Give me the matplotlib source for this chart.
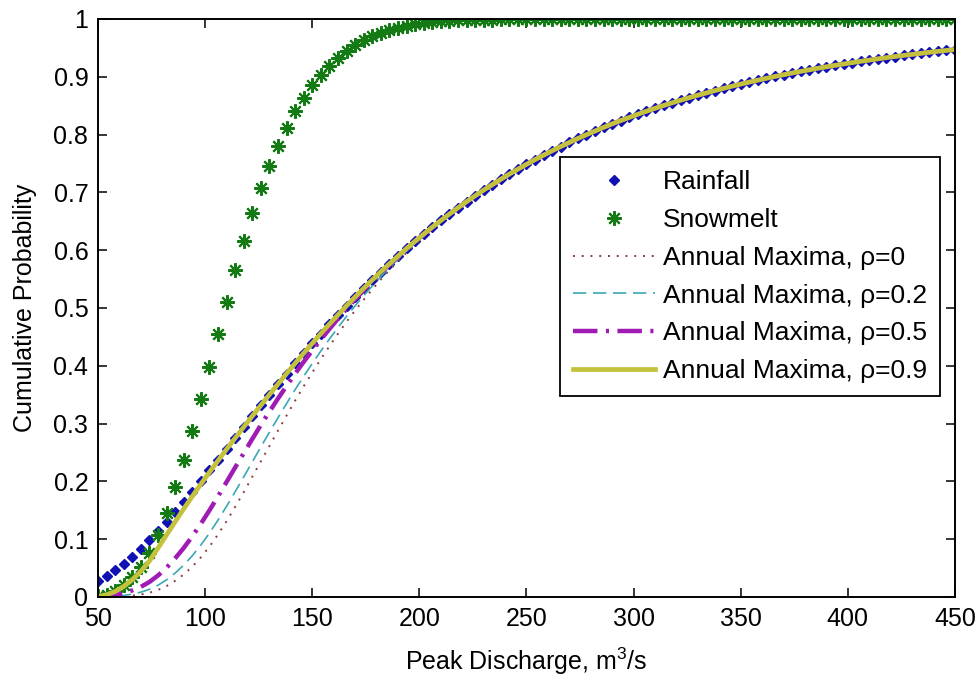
import matplotlib
matplotlib.use('Agg')
import matplotlib.pyplot as plt
from matplotlib.ticker import MultipleLocator, FormatStrFormatter

plt.rcParams['font.family'] = ['Liberation Sans', 'DejaVu Sans']
plt.rcParams['mathtext.fontset'] = 'custom'
plt.rcParams['mathtext.rm'] = 'Liberation Sans'
plt.rcParams['mathtext.it'] = 'Liberation Sans:italic'
plt.rcParams['mathtext.default'] = 'regular'

# ---------------- data ----------------
discharge = list(range(50, 451, 4))   # evaluation grid, m^3/s

rainfall = [
    0.0271, 0.0358, 0.0459, 0.0572, 0.0697, 0.0833, 0.0980, 0.1134, 0.1297, 0.1466,
    0.1641, 0.1820, 0.2004, 0.2189, 0.2377, 0.2566, 0.2755, 0.2943, 0.3131, 0.3318,
    0.3502, 0.3685, 0.3866, 0.4044, 0.4219, 0.4388, 0.4558, 0.4721, 0.4881, 0.5039,
    0.5191, 0.5341, 0.5486, 0.5628, 0.5765, 0.5898, 0.6030, 0.6156, 0.6278, 0.6398,
    0.6514, 0.6624, 0.6733, 0.6839, 0.6940, 0.7040, 0.7133, 0.7227, 0.7317, 0.7402,
    0.7486, 0.7568, 0.7645, 0.7721, 0.7794, 0.7864, 0.7933, 0.7999, 0.8062, 0.8125,
    0.8186, 0.8243, 0.8297, 0.8352, 0.8404, 0.8455, 0.8504, 0.8550, 0.8595, 0.8639,
    0.8682, 0.8722, 0.8762, 0.8800, 0.8838, 0.8874, 0.8908, 0.8942, 0.8974, 0.9006,
    0.9036, 0.9066, 0.9094, 0.9121, 0.9148, 0.9173, 0.9198, 0.9222, 0.9245, 0.9268,
    0.9289, 0.9311, 0.9331, 0.9351, 0.9370, 0.9388, 0.9406, 0.9424, 0.9440, 0.9456,
    0.9472,
]

snowmelt = [
    0.001, 0.004, 0.010, 0.020, 0.034, 0.052, 0.076, 0.108, 0.146, 0.190,
    0.237, 0.288, 0.342, 0.398, 0.455, 0.511, 0.565, 0.616, 0.664, 0.707,
    0.746, 0.781, 0.812, 0.840, 0.864, 0.885, 0.903, 0.919, 0.933, 0.945,
    0.955, 0.963, 0.970, 0.976, 0.981, 0.985, 0.988, 0.991, 0.993, 0.995,
    0.996, 0.997, 0.998, 0.998, 0.999, 0.999, 0.999, 1.000, 1.000, 1.000,
    1.000, 1.000, 1.000, 1.000, 1.000, 1.000, 1.000, 1.000, 1.000, 1.000,
    1.000, 1.000, 1.000, 1.000, 1.000, 1.000, 1.000, 1.000, 1.000, 1.000,
    1.000, 1.000, 1.000, 1.000, 1.000, 1.000, 1.000, 1.000, 1.000, 1.000,
    1.000, 1.000, 1.000, 1.000, 1.000, 1.000, 1.000, 1.000, 1.000, 1.000,
    1.000, 1.000, 1.000, 1.000, 1.000, 1.000, 1.000, 1.000, 1.000, 1.000,
    1.000,
]

# annual-maxima curves below ~206 m^3/s (above that they lie on the rainfall curve)
am_rho0_low = [
    0.0000, 0.0001, 0.0005, 0.0011, 0.0024, 0.0043, 0.0074, 0.0122, 0.0189, 0.0279,
    0.0389, 0.0524, 0.0685, 0.0871, 0.1082, 0.1311, 0.1557, 0.1813, 0.2079, 0.2346,
    0.2612, 0.2878, 0.3139, 0.3397, 0.3645, 0.3883, 0.4116, 0.4339, 0.4554, 0.4762,
    0.4957, 0.5143, 0.5321, 0.5493, 0.5655, 0.5810, 0.5958, 0.6101, 0.6234, 0.6366,
]
am_rho02_low = [
    0.0001, 0.0004, 0.0012, 0.0026, 0.0050, 0.0083, 0.0133, 0.0204, 0.0297, 0.0414,
    0.0551, 0.0713, 0.0899, 0.1104, 0.1330, 0.1570, 0.1820, 0.2076, 0.2336, 0.2595,
    0.2850, 0.3101, 0.3346, 0.3587, 0.3818, 0.4039, 0.4255, 0.4462, 0.4662, 0.4855,
    0.5037, 0.5212, 0.5380, 0.5541, 0.5696, 0.5843, 0.5985, 0.6122, 0.6251, 0.6379,
]
am_rho05_low = [
    0.0004, 0.0014, 0.0034, 0.0067, 0.0114, 0.0176, 0.0260, 0.0372, 0.0507, 0.0669,
    0.0848, 0.1049, 0.1267, 0.1498, 0.1741, 0.1990, 0.2240, 0.2487, 0.2733, 0.2975,
    0.3206, 0.3433, 0.3651, 0.3864, 0.4068, 0.4263, 0.4455, 0.4637, 0.4814, 0.4985,
    0.5148, 0.5307, 0.5460, 0.5608, 0.5749, 0.5886, 0.6021, 0.6150, 0.6274, 0.6396,
]
am_rho09_low = [
    0.0010, 0.0039, 0.0095, 0.0183, 0.0300, 0.0444, 0.0623, 0.0847, 0.1074, 0.1302,
    0.1524, 0.1741, 0.1953, 0.2158, 0.2359, 0.2556, 0.2749, 0.2940, 0.3129, 0.3316,
    0.3501, 0.3684, 0.3865, 0.4043, 0.4218, 0.4388, 0.4558, 0.4721, 0.4881, 0.5039,
    0.5191, 0.5341, 0.5486, 0.5628, 0.5765, 0.5898, 0.6030, 0.6156, 0.6278, 0.6398,
]
n_low = len(am_rho0_low)
am_rho0 = am_rho0_low + rainfall[n_low:]
am_rho02 = am_rho02_low + rainfall[n_low:]
am_rho05 = am_rho05_low + rainfall[n_low:]
am_rho09 = am_rho09_low + rainfall[n_low:]

labels = ['Rainfall', 'Snowmelt', 'Annual Maxima, ρ=0', 'Annual Maxima, ρ=0.2',
          'Annual Maxima, ρ=0.5', 'Annual Maxima, ρ=0.9']
x_ticks = [50, 100, 150, 200, 250, 300, 350, 400, 450]

# ---------------- figure ----------------
FS = 18
fig = plt.figure(figsize=(9.79, 6.80), dpi=100)
fig.patch.set_facecolor('white')
ax = fig.add_axes([98 / 979, 1 - 597 / 680, 857 / 979, 578 / 680])

blue = '#1010b4'
green = '#147a14'
ax.plot(discharge, rainfall, linestyle='none', marker='D', ms=5.2,
        color=blue, mec=blue, label=labels[0])
ax.plot(discharge, snowmelt, linestyle='none', marker=(8, 2, 0), ms=10.5, mew=1.5,
        color=green, mec=green, label=labels[1])
ax.plot(discharge, am_rho0, color='#8a3c3c', lw=1.4, dashes=(1, 3.5), label=labels[2])
ax.plot(discharge, am_rho02, color='#3aa8b4', lw=1.2, dashes=(8, 4), label=labels[3])
ax.plot(discharge, am_rho05, color='#a01ab4', lw=3.2, dashes=(5.5, 1.9, 0.7, 1.9),
        label=labels[4])
ax.plot(discharge, am_rho09, color='#c4c23c', lw=3.4, label=labels[5])

ax.set_xlim(50, 450)
ax.set_ylim(0, 1)
ax.set_xticks(x_ticks)
ax.yaxis.set_major_locator(MultipleLocator(0.1))
ax.yaxis.set_major_formatter(FormatStrFormatter('%g'))
ax.tick_params(direction='in', length=6.5, width=1.1, labelsize=FS, pad=7,
               top=True, right=True, colors='black')
for sp in ax.spines.values():
    sp.set_linewidth(1.4)
    sp.set_color('black')

ax.set_xlabel('Peak Discharge, m$^3$/s', fontsize=FS, labelpad=11)
ax.set_ylabel('Cumulative Probability', fontsize=FS, labelpad=12)

leg = ax.legend(loc='upper left', bbox_to_anchor=(0.539, 0.761), borderaxespad=0,
                fontsize=19, frameon=True, fancybox=False, framealpha=1,
                edgecolor='black', numpoints=1, handlelength=3.1,
                handletextpad=0.3, labelspacing=0.52, borderpad=0.5)
leg.get_frame().set_linewidth(1.3)

fig.savefig('out.png', dpi=100, facecolor='white')
